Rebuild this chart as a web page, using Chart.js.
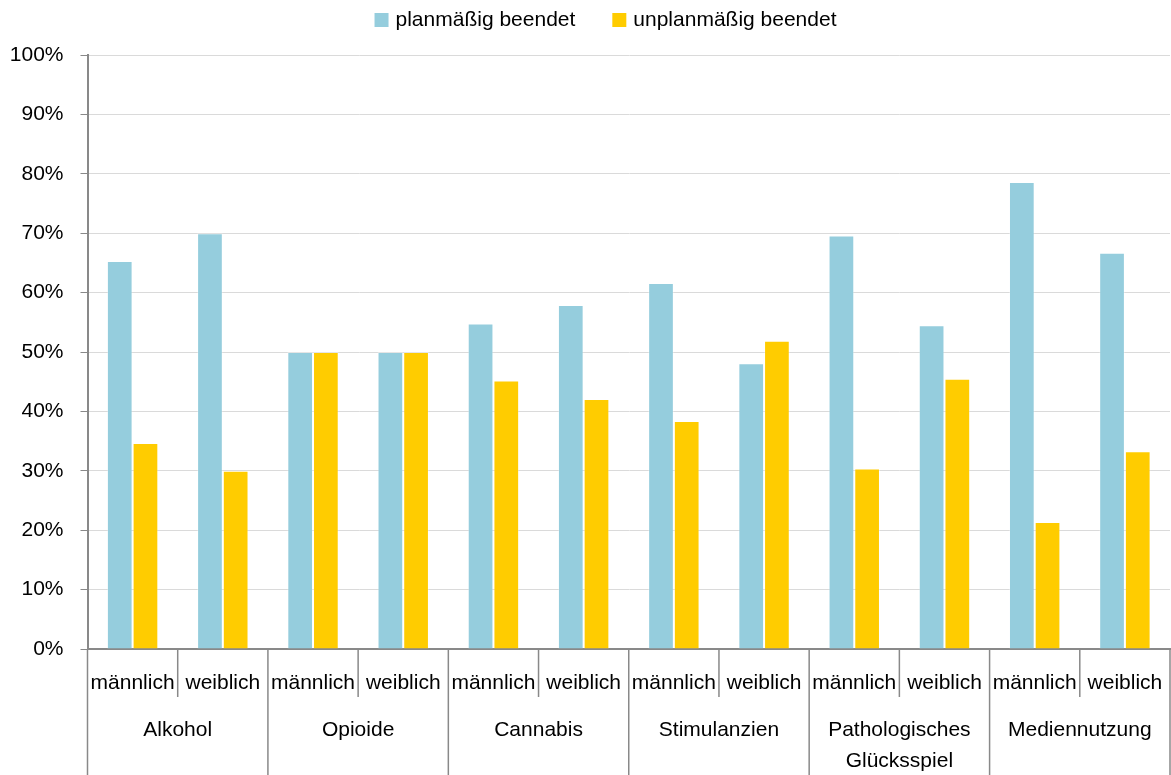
<!DOCTYPE html>
<html>
<head>
<meta charset="utf-8">
<script src="https://cdn.jsdelivr.net/npm/chart.js@4/dist/chart.umd.min.js"></script>
<style>
  html, body { margin: 0; padding: 0; background: #fff; }
  #wrap { width: 1171px; height: 775px; }
</style>
</head>
<body>
<div id="wrap"><canvas id="chart" width="1171" height="775"></canvas></div>
<script>
const groups = ["Alkohol", "Opioide", "Cannabis", "Stimulanzien", ["Pathologisches", "Glücksspiel"], "Mediennutzung"];
const genders = ["männlich", "weiblich"];
const planmaessig = [65.3, 70.0, 50.0, 50.0, 54.8, 57.9, 61.6, 48.1, 69.6, 54.5, 78.6, 66.7];
const unplanmaessig = [34.7, 30.0, 50.0, 50.0, 45.2, 42.1, 38.4, 51.9, 30.4, 45.5, 21.4, 33.3];
const seriesNames = ["planmäßig beendet", "unplanmäßig beendet"];
const colors = ["#95cddd", "#ffcc00"];

const FONT = '"Liberation Sans", Arial, sans-serif';
const AXIS = "#898989";

// build the 12 categories (group x gender)
let labels = [];
groups.forEach(g => genders.forEach(s => labels.push(s)));

// two level x axis + dividers
const xAxisPlugin = {
  id: "groupAxis",
  afterDraw(chart) {
    const ctx = chart.ctx;
    const x = chart.scales.x;
    const bottom = chart.chartArea.bottom;
    const n = labels.length;
    let edges = [x.left];
    for (let i = 1; i < n; i++) edges.push((x.getPixelForValue(i - 1) + x.getPixelForValue(i)) / 2);
    edges.push(x.right);

    ctx.save();
    ctx.strokeStyle = AXIS;
    ctx.lineWidth = 1.5;
    edges.forEach((e, k) => {
      ctx.beginPath();
      ctx.moveTo(e, bottom);
      ctx.lineTo(e, k % 2 === 0 ? chart.height : bottom + 48);
      ctx.stroke();
    });

    ctx.fillStyle = "#000";
    ctx.font = "21px " + FONT;
    ctx.textAlign = "center";
    ctx.textBaseline = "middle";
    labels.forEach((l, i) => {
      ctx.fillText(l, x.getPixelForValue(i), bottom + 34);
    });
    groups.forEach((g, j) => {
      const cx = (edges[j * 2] + edges[j * 2 + 2]) / 2;
      const lines = Array.isArray(g) ? g : [g];
      lines.forEach((t, k) => ctx.fillText(t, cx, bottom + 81 + k * 31));
    });
    ctx.restore();
  }
};

// legend drawn at the top
const legendPlugin = {
  id: "topLegend",
  afterDraw(chart) {
    const ctx = chart.ctx;
    ctx.save();
    ctx.font = "21px " + FONT;
    ctx.textBaseline = "middle";
    ctx.textAlign = "left";
    const box = 14, gap = 7, between = 37;
    const widths = seriesNames.map(s => ctx.measureText(s).width);
    const total = widths.reduce((a, b) => a + b, 0) + 2 * (box + gap) + between;
    let px = 605.5 - total / 2;
    const cy = 20;
    seriesNames.forEach((s, i) => {
      ctx.fillStyle = colors[i];
      ctx.fillRect(px, cy - box / 2, box, box);
      ctx.fillStyle = "#000";
      ctx.fillText(s, px + box + gap, cy);
      px += box + gap + widths[i] + between;
    });
    ctx.restore();
  }
};

new Chart(document.getElementById("chart").getContext("2d"), {
  type: "bar",
  data: {
    labels: labels,
    datasets: [
      {
        label: seriesNames[0],
        data: planmaessig,
        backgroundColor: colors[0],
        borderColor: "rgba(255,255,255,0.3)",
        borderWidth: 1,
      },
      {
        label: seriesNames[1],
        data: unplanmaessig,
        backgroundColor: colors[1],
        borderColor: "rgba(255,255,255,0.3)",
        borderWidth: 1,
      },
    ],
  },
  options: {
    responsive: false,
    animation: false,
    layout: { padding: { top: 55, bottom: 126, left: 10, right: 1 } },
    datasets: { bar: { categoryPercentage: 0.57, barPercentage: 1.0 } },
    plugins: {
      legend: { display: false },
      tooltip: { enabled: false },
    },
    scales: {
      x: {
        grid: { display: false, drawTicks: false },
        ticks: { display: false },
        border: { display: true, color: AXIS, width: 2 },
      },
      y: {
        min: 0,
        max: 100,
        afterFit: scale => { scale.width = 77.5; },
        ticks: {
          stepSize: 10,
          padding: 17,
          color: "#000",
          font: { family: FONT, size: 21 },
          callback: v => v + "%",
        },
        grid: { color: "#dadada", lineWidth: 1, tickLength: 7, tickColor: AXIS },
        border: { color: AXIS, width: 2 },
      },
    },
  },
  plugins: [xAxisPlugin, legendPlugin],
});
</script>
</body>
</html>
